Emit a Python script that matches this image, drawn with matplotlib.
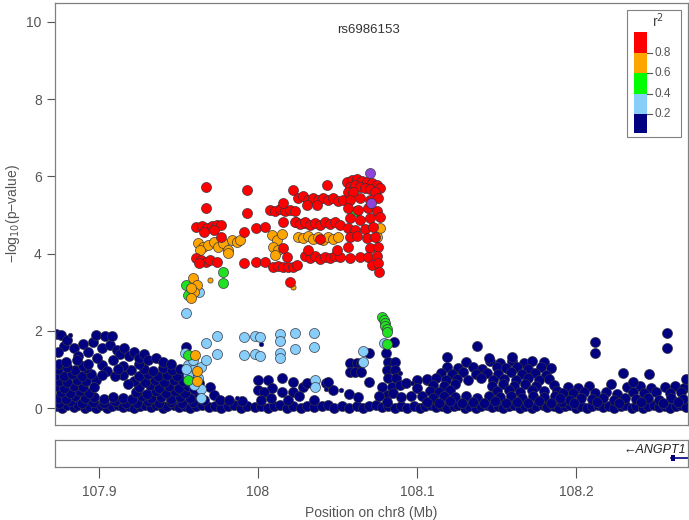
import numpy as np
import matplotlib
matplotlib.use('Agg')
import matplotlib.pyplot as plt
from matplotlib.patches import Rectangle

plt.rcParams['font.family'] = ['Liberation Sans', 'DejaVu Sans']

# ---- data: (position Mb, -log10 p) ----
# r2 < 0.2 (navy)
dark_base = [
    (107.873, 0.04), (107.877, 0.00), (107.880, 0.07), (107.884, 0.02), (107.887, 0.09), (107.891, 0.00),
    (107.894, 0.05), (107.898, 0.01), (107.901, 0.08), (107.905, 0.00), (107.908, 0.05), (107.912, 0.09),
    (107.915, 0.02), (107.919, 0.06), (107.922, 0.00), (107.926, 0.04), (107.929, 0.09), (107.933, 0.02),
    (107.936, 0.07), (107.940, 0.00), (107.943, 0.05), (107.947, 0.09), (107.950, 0.03), (107.954, 0.06),
    (107.957, 0.00), (107.961, 0.04), (107.965, 0.08), (107.969, 0.02), (107.973, 0.05), (107.977, 0.00),
    (107.981, 0.04), (107.985, 0.07), (107.989, 0.01), (107.993, 0.04), (107.998, 0.02), (108.002, 0.06),
    (108.006, 0.00), (108.010, 0.04), (108.014, 0.07), (108.018, 0.01), (108.022, 0.05), (108.027, 0.00),
    (108.031, 0.05), (108.035, 0.02), (108.040, 0.04), (108.044, 0.07), (108.048, 0.00), (108.053, 0.04),
    (108.057, 0.01), (108.062, 0.05), (108.066, 0.00), (108.070, 0.04), (108.074, 0.08), (108.078, 0.02),
    (108.082, 0.05), (108.086, 0.00), (108.090, 0.04), (108.094, 0.01), (108.098, 0.06), (108.102, 0.00),
    (108.105, 0.05), (108.109, 0.09), (108.112, 0.02), (108.116, 0.06), (108.119, 0.00), (108.123, 0.04),
    (108.126, 0.08), (108.130, 0.01), (108.133, 0.06), (108.137, 0.00), (108.140, 0.04), (108.144, 0.08),
    (108.147, 0.02), (108.151, 0.05), (108.154, 0.00), (108.158, 0.04), (108.161, 0.08), (108.165, 0.01),
    (108.168, 0.05), (108.172, 0.00), (108.175, 0.04), (108.179, 0.08), (108.182, 0.02), (108.186, 0.05),
    (108.189, 0.00), (108.193, 0.04), (108.196, 0.08), (108.200, 0.01), (108.203, 0.05), (108.207, 0.00),
    (108.210, 0.04), (108.214, 0.08), (108.217, 0.02), (108.221, 0.05), (108.224, 0.00), (108.228, 0.04),
    (108.231, 0.08), (108.235, 0.01), (108.238, 0.05), (108.242, 0.00), (108.245, 0.04), (108.249, 0.08),
    (108.252, 0.02), (108.256, 0.05), (108.259, 0.00), (108.263, 0.04), (108.266, 0.08), (108.269, 0.02),
]
dark_left = [
    (107.875, 0.14), (107.882, 0.17), (107.889, 0.12), (107.896, 0.16), (107.903, 0.13), (107.910, 0.18),
    (107.917, 0.14), (107.924, 0.12), (107.931, 0.17), (107.938, 0.13), (107.945, 0.16), (107.952, 0.12),
    (107.959, 0.15), (107.874, 0.27), (107.879, 0.24), (107.885, 0.30), (107.891, 0.25), (107.897, 0.28),
    (107.903, 0.23), (107.909, 0.29), (107.915, 0.26), (107.921, 0.24), (107.927, 0.30), (107.933, 0.25),
    (107.939, 0.28), (107.945, 0.23), (107.951, 0.29), (107.957, 0.26), (107.966, 0.22), (107.876, 0.42),
    (107.882, 0.38), (107.888, 0.44), (107.894, 0.40), (107.923, 0.41), (107.930, 0.37), (107.936, 0.43),
    (107.942, 0.39), (107.948, 0.44), (107.954, 0.40), (107.962, 0.38), (107.873, 0.56), (107.878, 0.52),
    (107.884, 0.58), (107.890, 0.54), (107.925, 0.55), (107.932, 0.59), (107.938, 0.53), (107.944, 0.57),
    (107.950, 0.52), (107.956, 0.56), (107.875, 0.71), (107.880, 0.68), (107.886, 0.73), (107.892, 0.69),
    (107.898, 0.72), (107.922, 0.70), (107.929, 0.67), (107.935, 0.72), (107.941, 0.68), (107.947, 0.73),
    (107.953, 0.69), (107.958, 0.66), (107.873, 0.86), (107.878, 0.83), (107.883, 0.88), (107.889, 0.84),
    (107.895, 0.87), (107.915, 0.85), (107.925, 0.82), (107.931, 0.88), (107.937, 0.84), (107.943, 0.86),
    (107.949, 0.83), (107.955, 0.87), (107.874, 1.01), (107.885, 0.98), (107.892, 1.03), (107.920, 0.99),
    (107.928, 1.02), (107.934, 0.97), (107.940, 1.04), (107.946, 0.99), (107.951, 1.02),
    (107.875, 1.15), (107.890, 1.10), (107.902, 1.12), (107.915, 1.10), (107.905, 0.95), (107.910, 0.82),
    (107.902, 0.86), (107.918, 0.62), (107.897, 0.55), (107.880, 1.05), (107.912, 1.00), (107.925, 1.15),
    # upper patch
    (107.873, 1.92), (107.876, 1.88), (107.878, 1.60), (107.874, 1.45), (107.880, 1.75), (107.884, 1.55),
    (107.887, 1.35), (107.890, 1.66), (107.893, 1.45), (107.896, 1.70), (107.898, 1.89), (107.902, 1.55),
    (107.904, 1.87), (107.907, 1.62), (107.908, 1.87), (107.911, 1.50), (107.913, 1.40), (107.916, 1.55),
    (107.919, 1.35), (107.922, 1.45), (107.925, 1.30), (107.928, 1.40), (107.931, 1.25), (107.936, 1.30),
    (107.940, 1.20), (107.955, 1.58), (107.886, 1.25), (107.899, 1.30), (107.909, 1.25), (107.893, 1.15),
    (107.879, 1.20), (107.945, 1.15),
]
dark_mid = [
    (107.963, 0.65), (107.960, 0.48), (107.970, 0.55), (107.972, 0.33), (107.976, 0.20), (107.982, 0.22),
    (107.990, 0.18), (108.000, 0.73), (108.000, 0.47), (108.006, 0.73), (108.009, 0.52), (108.004, 0.41),
    (108.015, 0.78), (108.015, 0.41), (108.022, 0.67), (108.022, 0.41), (108.028, 0.54), (108.031, 0.65),
    (108.002, 0.20), (108.008, 0.26), (108.019, 0.22), (108.035, 0.22), (108.043, 0.65), (108.047, 0.47),
    (108.026, 0.30), (108.058, 1.17), (108.062, 1.17), (108.065, 1.17), (108.058, 0.93), (108.061, 0.93),
    (108.065, 0.93), (108.070, 1.42), (108.070, 0.67), (108.044, 0.67), (108.057, 0.35), (108.063, 0.28),
    (108.0855, 1.71), (108.0805, 1.42), (108.082, 1.19), (108.086, 1.19), (108.081, 0.98), (108.086, 0.98),
    (108.082, 0.78), (108.087, 0.78), (108.084, 0.54), (108.089, 0.60), (108.093, 0.65), (108.081, 0.33),
    (108.081, 0.15), (108.085, 0.38), (108.090, 0.28), (108.078, 0.55), (108.076, 0.30), (108.100, 0.73),
    (108.100, 0.52), (108.106, 0.73), (108.096, 0.30),
]
dark_right = [
    (108.131, 1.20), (108.146, 1.22), (108.152, 1.17), (108.160, 1.21), (108.167, 1.16), (108.172, 1.22),
    (108.180, 1.18), (108.119, 1.06), (108.126, 1.03), (108.135, 1.07), (108.141, 1.02), (108.150, 1.06),
    (108.156, 1.03), (108.163, 1.07), (108.170, 1.02), (108.178, 1.05), (108.184, 1.03), (108.115, 0.90),
    (108.122, 0.87), (108.129, 0.92), (108.137, 0.88), (108.144, 0.91), (108.151, 0.87), (108.159, 0.92),
    (108.166, 0.88), (108.174, 0.91), (108.181, 0.86), (108.106, 0.74), (108.112, 0.77), (108.118, 0.73),
    (108.125, 0.76), (108.132, 0.72), (108.140, 0.77), (108.148, 0.73), (108.155, 0.76), (108.162, 0.72),
    (108.170, 0.77), (108.177, 0.73), (108.183, 0.75), (108.110, 0.60), (108.117, 0.57), (108.124, 0.61),
    (108.147, 0.58), (108.154, 0.62), (108.161, 0.57), (108.168, 0.61), (108.175, 0.58), (108.186, 0.60),
    (108.108, 0.45), (108.114, 0.42), (108.121, 0.46), (108.150, 0.43), (108.158, 0.47), (108.165, 0.42),
    (108.172, 0.46), (108.180, 0.43), (108.188, 0.45), (108.103, 0.30), (108.110, 0.27), (108.117, 0.31),
    (108.124, 0.28), (108.131, 0.32), (108.138, 0.27), (108.145, 0.31), (108.152, 0.28), (108.159, 0.32),
    (108.166, 0.27), (108.173, 0.31), (108.180, 0.28), (108.187, 0.32), (108.193, 0.27), (108.106, 0.16),
    (108.114, 0.13), (108.121, 0.17), (108.128, 0.14), (108.135, 0.16), (108.142, 0.13), (108.149, 0.17),
    (108.156, 0.14), (108.163, 0.16), (108.170, 0.13), (108.177, 0.17), (108.184, 0.14), (108.191, 0.16),
    (108.138, 1.61), (108.119, 1.32), (108.145, 1.30), (108.160, 1.33),
]
dark_far = [
    (108.195, 0.55), (108.201, 0.52), (108.208, 0.57), (108.232, 0.54), (108.240, 0.57), (108.247, 0.52),
    (108.256, 0.55), (108.262, 0.58), (108.268, 0.53), (108.192, 0.40), (108.198, 0.38), (108.205, 0.42),
    (108.212, 0.39), (108.219, 0.41), (108.226, 0.37), (108.236, 0.42), (108.243, 0.39), (108.250, 0.41),
    (108.259, 0.38), (108.266, 0.42), (108.190, 0.25), (108.196, 0.22), (108.203, 0.27), (108.210, 0.24),
    (108.217, 0.26), (108.224, 0.22), (108.231, 0.27), (108.238, 0.24), (108.245, 0.26), (108.252, 0.22),
    (108.260, 0.27), (108.267, 0.24), (108.199, 0.14), (108.213, 0.15), (108.227, 0.13), (108.241, 0.15),
    (108.255, 0.13), (108.264, 0.15), (108.212, 1.71), (108.212, 1.42), (108.257, 1.94), (108.257, 1.55),
    (108.246, 0.88), (108.269, 0.75), (108.236, 0.68), (108.222, 0.62), (108.2296, 0.90),
]
dark_small = [(107.882, 1.88), (108.002, 1.66), (107.987, 0.27), (108.052, 0.47), (108.089, 0.90),
              (108.097, 0.65), (108.043, 0.50)]

# 0.2 - 0.4 (light blue)
lblue = [
    (107.955, 2.46), (107.974, 1.87), (107.967, 1.68), (107.974, 1.40), (107.991, 1.84), (107.991, 1.37),
    (107.998, 1.87), (108.001, 1.84), (107.998, 1.40), (108.001, 1.35), (108.014, 1.92), (108.014, 1.74),
    (108.014, 1.42), (108.014, 1.30), (108.023, 1.94), (108.023, 1.53), (108.035, 1.94), (108.035, 1.58),
    (108.036, 0.73), (108.036, 0.54), (108.066, 1.48), (108.066, 1.19), (108.079, 1.69),
    (107.954, 1.42), (107.956, 1.11), (107.959, 1.24), (107.959, 0.98), (107.964, 1.06), (107.967, 1.24),
    (107.956, 0.85), (107.962, 0.78), (107.964, 0.49), (107.964, 0.26), (107.960, 0.60), (107.955, 1.00),
    (107.963, 3.01),
]
# 0.4 - 0.6 (green)
green = [
    (107.955, 3.19), (107.956, 2.93), (107.978, 3.53), (107.978, 3.23), (107.956, 1.37), (107.956, 0.73),
    (108.078, 2.36), (108.079, 2.28), (108.080, 2.20), (108.080, 2.12), (108.081, 2.04), (108.081, 1.96),
    (108.081, 1.66), (108.0614, 5.10),
]
# 0.6 - 0.8 (orange)
orange = [
    (107.9625, 4.27), (107.9656, 4.18), (107.9688, 4.22), (107.972, 4.31), (107.9751, 4.18), (107.9782, 4.27),
    (107.9814, 4.09), (107.9835, 4.35), (107.9866, 4.31), (107.9887, 4.35), (107.9635, 4.09), (107.981, 4.02),
    (108.0086, 4.48), (108.0118, 4.35), (108.0097, 4.18), (108.0128, 4.09), (108.0107, 3.96), (108.015, 4.52),
    (108.0254, 4.44), (108.0285, 4.40), (108.0317, 4.46), (108.0348, 4.37), (108.038, 4.42), (108.0411, 4.35),
    (108.0443, 4.44), (108.0474, 4.37), (108.0505, 4.42), (108.0768, 4.65), (108.0747, 4.44),
    (107.9594, 3.36), (107.9615, 3.19), (107.960, 3.01), (107.958, 2.84), (107.958, 3.10),
    (107.9604, 1.37), (107.9616, 0.96), (107.9616, 0.70),
]
orange_small = [(107.970, 3.32), (108.022, 3.14)]
# 0.8 - 1 (red)
red = [
    (107.9673, 5.73), (107.9673, 5.17), (107.961, 4.70), (107.965, 4.72), (107.968, 4.66), (107.971, 4.72),
    (107.974, 4.74), (107.977, 4.73), (107.966, 4.57), (107.972, 4.60), (107.961, 3.88), (107.964, 3.84),
    (107.967, 3.79), (107.970, 3.84), (107.974, 3.77), (107.963, 3.75), (107.991, 3.75), (107.991, 4.57),
    (107.993, 5.65), (107.993, 5.04), (107.977, 4.42), (107.9988, 4.65), (108.0044, 4.70), (107.9988, 3.79),
    (108.0044, 3.79), (108.0097, 3.66), (108.0128, 3.68), (108.016, 3.64), (108.0191, 3.66), (108.0223, 3.64),
    (108.0243, 3.70), (108.0076, 5.13), (108.0107, 5.09), (108.0139, 5.15), (108.017, 5.11), (108.0202, 5.13),
    (108.0233, 5.09), (108.016, 5.30), (108.016, 4.14), (108.018, 3.92), (108.016, 4.83), (108.024, 4.83),
    (108.029, 4.78), (108.020, 3.27), (108.0223, 5.65), (108.0254, 5.43), (108.0285, 5.48), (108.0317, 5.39),
    (108.0348, 5.43), (108.038, 5.39), (108.0411, 5.43), (108.0443, 5.39), (108.0474, 5.43), (108.0505, 5.35),
    (108.0537, 5.39), (108.0432, 5.78), (108.0306, 5.26), (108.0369, 5.26), (108.0233, 4.83), (108.0264, 4.77),
    (108.0296, 4.83), (108.0327, 4.74), (108.0359, 4.80), (108.039, 4.74), (108.0422, 4.83), (108.0453, 4.77),
    (108.0485, 4.83), (108.0516, 4.74), (108.039, 4.37), (108.0296, 3.93), (108.0327, 3.88), (108.0359, 3.94),
    (108.039, 3.85), (108.0422, 3.92), (108.0453, 3.88), (108.0485, 3.94), (108.0516, 3.90), (108.058, 3.88),
    (108.0317, 4.09), (108.0495, 4.09),
    (108.0558, 5.86), (108.059, 5.91), (108.0621, 5.92), (108.0652, 5.89), (108.0684, 5.86), (108.0715, 5.82),
    (108.0747, 5.78), (108.0768, 5.69), (108.0579, 5.73), (108.061, 5.78), (108.0642, 5.73), (108.0673, 5.69),
    (108.0705, 5.66), (108.0736, 5.60), (108.0568, 5.60), (108.060, 5.60), (108.0579, 5.39), (108.0642, 5.43),
    (108.0705, 5.39), (108.0757, 5.43), (108.0568, 5.17), (108.0631, 5.13), (108.0694, 5.17), (108.0747, 5.09),
    (108.0579, 4.91), (108.0642, 4.87), (108.0705, 4.91), (108.0768, 4.96), (108.0568, 4.65), (108.061, 4.61),
    (108.0673, 4.63), (108.0726, 4.70), (108.0579, 4.42), (108.0621, 4.46), (108.0684, 4.40), (108.0736, 4.44),
    (108.0568, 4.18), (108.0705, 4.14), (108.0757, 4.18), (108.0642, 3.92), (108.0694, 3.90), (108.0747, 3.94),
    (108.0715, 3.70), (108.0757, 3.75), (108.0759, 3.51),
]
purple = [(108.0705, 6.10), (108.0711, 5.30)]

legend_colors = ['#000080', '#87cefa', '#00ff00', '#ffa500', '#ff0000']
legend_ticks = ['0.2', '0.4', '0.6', '0.8']

fig = plt.figure(figsize=(6.89, 5.2), dpi=100)
ax = fig.add_axes([0.0798, 0.1827, 0.9187, 0.8115])
gx = fig.add_axes([0.0798, 0.1019, 0.9187, 0.0519])

edge = (0.2, 0.2, 0.25, 0.8)


def draw(pts, color, s=52, z=2):
    a = np.array(pts)
    ax.scatter(a[:, 0], a[:, 1], s=s, c=color, edgecolors=edge, linewidths=0.6, zorder=z)


for grp in (dark_base, dark_left, dark_mid, dark_right, dark_far):
    draw(grp, '#000080', z=2)
draw(dark_small, '#000080', s=10, z=2)
draw(lblue, '#87cefa', z=3)
draw(green, '#22e022', z=4)
draw(orange, '#ffa500', z=5)
draw(orange_small, '#ffa500', s=14, z=5)
draw(red, '#ff0000', z=6)
draw(purple, '#8e44d6', z=7)

xlim = (107.8723, 108.2704)
ax.set_xlim(*xlim)
ax.set_ylim(-0.44, 10.49)
ax.set_yticks([0, 2, 4, 6, 8, 10])
ax.set_xticks([])
ax.tick_params(axis='y', colors='#555555', labelsize=10, length=6, width=0.8)
for sp in ax.spines.values():
    sp.set_color('#808080')
    sp.set_linewidth(0.9)
ax.set_ylabel('\u2212log$_{10}$(p\u2212value)', color='#555555', fontsize=10)
ax.yaxis.set_label_coords(-0.052, 0.5)

ax.text(0.496, 0.936, 'rs6986153', transform=ax.transAxes, ha='center', va='center',
        fontsize=9.5, color='#333333')

# r2 legend
tr = ax.transAxes
ax.add_patch(Rectangle((0.9036, 0.682), 0.0854, 0.301, transform=tr, facecolor='white',
                       edgecolor='#808080', linewidth=0.8, zorder=10))
bounds = [0.692, 0.737, 0.784, 0.834, 0.8815, 0.931]
for i, col in enumerate(legend_colors):
    ax.add_patch(Rectangle((0.9147, bounds[i]), 0.0205, bounds[i + 1] - bounds[i], transform=tr,
                           facecolor=col, edgecolor='none', zorder=11))
for i, lab in enumerate(legend_ticks):
    yb = bounds[i + 1]
    ax.plot([0.9352, 0.943], [yb, yb], transform=tr, color='#555555', lw=0.8, zorder=11)
    ax.text(0.947, yb, lab, transform=tr, ha='left', va='center', fontsize=8.5,
            color='#555555', zorder=11)
ax.text(0.9526, 0.958, 'r$^2$', transform=tr, ha='center', va='center', fontsize=10,
        color='#444444', zorder=11)

# gene panel
gx.set_xlim(*xlim)
gx.set_ylim(0, 1)
gx.set_yticks([])
gx.set_xticks([107.9, 108.0, 108.1, 108.2])
gx.set_xticklabels(['107.9', '108', '108.1', '108.2'])
gx.tick_params(axis='x', colors='#555555', labelsize=10, length=8, width=0.8, pad=5)
for sp in gx.spines.values():
    sp.set_color('#808080')
    sp.set_linewidth(0.9)
gx.plot([108.2597, 108.30], [0.33, 0.33], color='#000080', lw=1.2)
gx.add_patch(Rectangle((108.2597, 0.22), 0.0025, 0.22, facecolor='#000080', edgecolor='none'))
gx.text(108.269, 0.63, '\u2190ANGPT1', ha='right', va='center', fontsize=9,
        fontstyle='italic', color='#222222')
gx.set_xlabel('Position on chr8 (Mb)', color='#555555', fontsize=10)
gx.xaxis.set_label_coords(0.5, -1.45)

fig.savefig('out.png', dpi=100)
